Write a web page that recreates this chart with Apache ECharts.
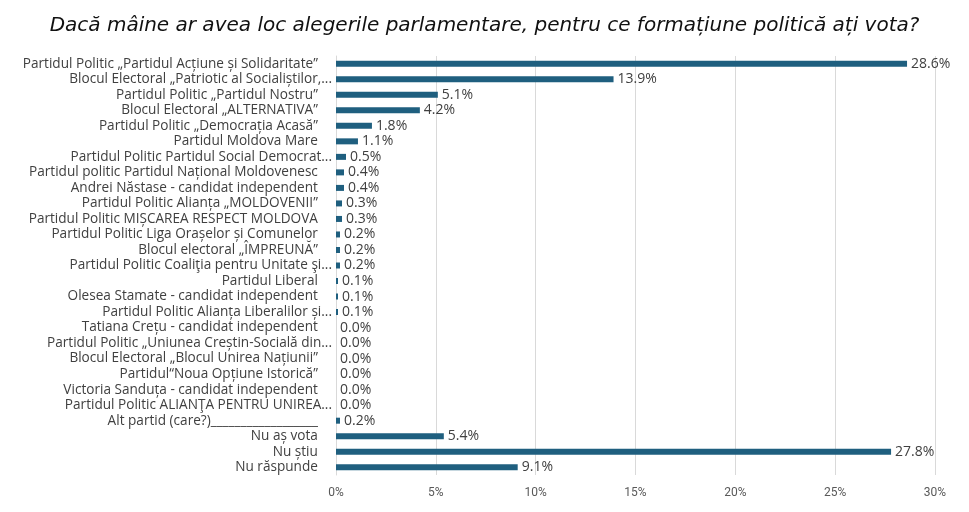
<!DOCTYPE html>
<html>
<head>
<meta charset="utf-8">
<script src="https://cdn.jsdelivr.net/npm/echarts@6/dist/echarts.min.js"></script>
<style>html,body{margin:0;padding:0;background:#fff}#c{width:969px;height:512px}</style>
</head>
<body>
<div id="c"></div>
<script>
const titleText = "Dacă mâine ar avea loc alegerile parlamentare, pentru ce formațiune politică ați vota?";
const categories = [
  "Partidul Politic „Partidul Acțiune și Solidaritate”",
  "Blocul Electoral „Patriotic al Socialiștilor,...",
  "Partidul Politic „Partidul Nostru”",
  "Blocul Electoral „ALTERNATIVA”",
  "Partidul Politic „Democrația Acasă”",
  "Partidul Moldova Mare",
  "Partidul Politic Partidul Social Democrat...",
  "Partidul politic Partidul Național Moldovenesc",
  "Andrei Năstase - candidat independent",
  "Partidul Politic Alianța „MOLDOVENII”",
  "Partidul Politic MIȘCAREA RESPECT MOLDOVA",
  "Partidul Politic Liga Orașelor și Comunelor",
  "Blocul electoral „ÎMPREUNĂ”",
  "Partidul Politic Coaliţia pentru Unitate şi...",
  "Partidul Liberal",
  "Olesea Stamate - candidat independent",
  "Partidul Politic Alianța Liberalilor și...",
  "Tatiana Crețu - candidat independent",
  "Partidul Politic „Uniunea Creștin-Socială din...",
  "Blocul Electoral „Blocul Unirea Națiunii”",
  "Partidul“Noua Opțiune Istorică”",
  "Victoria Sanduța - candidat independent",
  "Partidul Politic ALIANŢA PENTRU UNIREA...",
  "Alt partid (care?)__________________",
  "Nu aș vota",
  "Nu știu",
  "Nu răspunde"
];
const values = [28.6, 13.9, 5.1, 4.2, 1.8, 1.1, 0.5, 0.4, 0.4, 0.3, 0.3, 0.2, 0.2, 0.2, 0.1, 0.1, 0.1, 0.0, 0.0, 0.0, 0.0, 0.0, 0.0, 0.2, 5.4, 27.8, 9.1];
const xTicks = [0, 5, 10, 15, 20, 25, 30];

const chart = echarts.init(document.getElementById('c'));
chart.setOption({
  animation: false,
  backgroundColor: '#ffffff',
  title: {
    text: titleText,
    left: 'center',
    top: 11,
    textStyle: { fontFamily: 'DejaVu Sans', fontStyle: 'italic', fontWeight: 'normal', fontSize: 20, color: '#111111' }
  },
  grid: { left: 336, right: 34, top: 56, bottom: 37, containLabel: false },
  xAxis: {
    type: 'value',
    min: xTicks[0],
    max: xTicks[xTicks.length - 1],
    interval: 5,
    axisLine: { show: false },
    axisTick: { show: false },
    splitLine: { lineStyle: { color: '#d9d9d9', width: 1 } },
    axisLabel: { formatter: v => v + '%', color: '#595959', fontSize: 12, fontFamily: 'Roboto', margin: 12 }
  },
  yAxis: {
    type: 'category',
    data: categories,
    inverse: true,
    axisLine: { show: true, lineStyle: { color: '#d9d9d9' } },
    axisTick: { show: false },
    axisLabel: {
      color: '#404040', fontSize: 13.6, fontFamily: 'Open Sans', margin: 4, interval: 0,
      formatter: v => v.endsWith('...') ? v : v + '    '
    }
  },
  series: [{
    type: 'bar',
    data: values,
    barWidth: 6,
    itemStyle: { color: '#1f5f7f' },
    label: {
      show: true,
      position: 'right',
      distance: 4,
      formatter: p => p.value.toFixed(1) + '%',
      color: '#404040',
      fontSize: 14,
      fontFamily: 'Open Sans'
    }
  }]
});
</script>
</body>
</html>
